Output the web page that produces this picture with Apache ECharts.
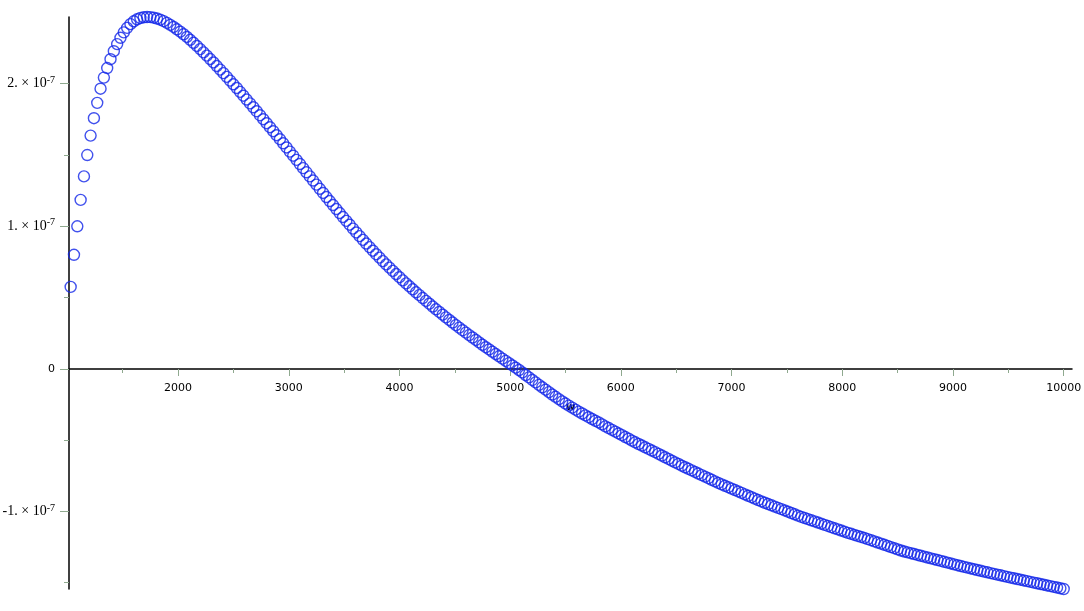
<!DOCTYPE html>
<html>
<head>
<meta charset="utf-8">
<title>plot</title>
<script src="https://cdn.jsdelivr.net/npm/echarts@6/dist/echarts.min.js"></script>
<style>
  html, body { margin: 0; padding: 0; background: #fff; }
  #main { width: 1084px; height: 611px; }
</style>
</head>
<body>
<div id="main"></div>
<script>
// sample points: x = X_START + i * X_STEP
const X_START = 1030,
    X_STEP = 30
// values in units of 1e-7
const yVals = [
    0.575, 0.800, 1.000, 1.185, 1.350, 1.500, 1.636, 1.758, 1.866, 1.965,
    2.043, 2.110, 2.172, 2.228, 2.278, 2.322, 2.360, 2.392, 2.418, 2.438,
    2.452, 2.461, 2.466, 2.468, 2.467, 2.463, 2.457, 2.449, 2.439, 2.427,
    2.413, 2.398, 2.382, 2.365, 2.347, 2.328, 2.308, 2.287, 2.265, 2.243,
    2.220, 2.197, 2.173, 2.149, 2.124, 2.099, 2.074, 2.048, 2.022, 1.996,
    1.970, 1.943, 1.916, 1.889, 1.862, 1.835, 1.807, 1.779, 1.751, 1.723,
    1.695, 1.667, 1.639, 1.611, 1.582, 1.553, 1.524, 1.495, 1.466, 1.437,
    1.408, 1.379, 1.350, 1.321, 1.292, 1.263, 1.234, 1.205, 1.177, 1.149,
    1.121, 1.093, 1.065, 1.038, 1.011, 0.984, 0.957, 0.931, 0.905, 0.879,
    0.854, 0.829, 0.804, 0.780, 0.756, 0.733, 0.710, 0.687, 0.665, 0.643,
    0.621, 0.600, 0.579, 0.558, 0.537, 0.517, 0.497, 0.477, 0.457, 0.437,
    0.418, 0.399, 0.380, 0.361, 0.343, 0.325, 0.307, 0.289, 0.271, 0.254,
    0.237, 0.220, 0.203, 0.186, 0.169, 0.152, 0.136, 0.120, 0.104, 0.088,
    0.072, 0.056, 0.040, 0.024, 0.008, -0.008, -0.025, -0.043, -0.060, -0.078,
    -0.095, -0.112, -0.129, -0.146, -0.163, -0.180, -0.196, -0.212, -0.228, -0.243,
    -0.258, -0.272, -0.286, -0.300, -0.313, -0.326, -0.339, -0.352, -0.364, -0.376,
    -0.389, -0.403, -0.415, -0.428, -0.440, -0.453, -0.465, -0.478, -0.490, -0.503,
    -0.515, -0.527, -0.538, -0.550, -0.561, -0.573, -0.584, -0.596, -0.608, -0.620,
    -0.632, -0.644, -0.656, -0.667, -0.679, -0.690, -0.701, -0.712, -0.723, -0.734,
    -0.745, -0.756, -0.767, -0.778, -0.789, -0.800, -0.810, -0.820, -0.830, -0.840,
    -0.850, -0.860, -0.870, -0.880, -0.890, -0.900, -0.910, -0.920, -0.930, -0.939,
    -0.948, -0.957, -0.966, -0.975, -0.984, -0.993, -1.002, -1.011, -1.020, -1.029,
    -1.038, -1.046, -1.054, -1.062, -1.070, -1.078, -1.086, -1.094, -1.102, -1.110,
    -1.118, -1.126, -1.134, -1.142, -1.150, -1.157, -1.165, -1.172, -1.179, -1.186,
    -1.194, -1.202, -1.210, -1.218, -1.226, -1.234, -1.242, -1.250, -1.258, -1.266,
    -1.274, -1.281, -1.287, -1.293, -1.299, -1.305, -1.311, -1.317, -1.323, -1.329,
    -1.335, -1.341, -1.347, -1.353, -1.359, -1.365, -1.371, -1.377, -1.383, -1.389,
    -1.394, -1.400, -1.405, -1.411, -1.416, -1.422, -1.427, -1.433, -1.438, -1.443,
    -1.448, -1.454, -1.459, -1.464, -1.469, -1.474, -1.479, -1.484, -1.489, -1.494,
    -1.499, -1.504, -1.509, -1.514, -1.519, -1.524, -1.529, -1.534, -1.539, -1.544
]
// ticks
const xLabels = [2000, 3000, 4000, 5000, 6000, 7000, 8000, 9000, 10000]
const xMinor = [1500, 2500, 3500, 4500, 5500, 6500, 7500, 8500, 9500]
const yLabels = [2e-7, 1e-7, 0, -1e-7]
const yMinor = [1.5e-7, 0.5e-7, -0.5e-7, -1.5e-7]

const Y_MIN = -1.544e-7,
    Y_MAX = 2.468e-7
const GRID_TOP = 17,
    GRID_BOTTOM = 22,
    H = 611
// the horizontal axis sits on y = 0: shift it up from the grid bottom
const plotH = H - GRID_TOP - GRID_BOTTOM
const zeroShift = -Math.round(plotH * (0 - Y_MIN) / (Y_MAX - Y_MIN))

const tickColor = '#8fa98f'
const blue = '#1226e8'

const points = yVals.map((v, i) => [X_START + i * X_STEP, v * 1e-7])

const myChart = echarts.init(document.getElementById('main'), null, { renderer: 'canvas' })

const option = {
    animation: false,
    backgroundColor: '#fff',
    grid: {
        left: 69,
        right: 12,
        top: GRID_TOP,
        bottom: GRID_BOTTOM,
        containLabel: false,
        outerBoundsMode: 'none'
    },
    xAxis: [{
        type: 'value',
        min: 1015,
        max: 10075,
        position: 'bottom',
        offset: zeroShift,
        name: 'w',
        nameLocation: 'middle',
        nameGap: 33,
        nameTextStyle: { color: '#000', fontSize: 10, fontFamily: 'DejaVu Sans', fontWeight: 'bold' },
        axisLine: { show: true, onZero: false, lineStyle: { color: '#000', width: 1.5 } },
        axisTick: { show: true, length: 7, lineStyle: { color: tickColor, width: 1 }, customValues: xLabels },
        axisLabel: {
            show: true,
            customValues: xLabels,
            formatter: v => String(v),
            margin: 14,
            color: '#000',
            fontSize: 11,
            fontFamily: 'DejaVu Sans'
        },
        splitLine: { show: false }
    }, {
        type: 'value',
        min: 1015,
        max: 10075,
        position: 'bottom',
        offset: zeroShift,
        axisLine: { show: false, onZero: false },
        axisTick: { show: true, length: 4, lineStyle: { color: tickColor, width: 1 }, customValues: xMinor },
        axisLabel: { show: false },
        splitLine: { show: false }
    }],
    yAxis: [{
        type: 'value',
        min: Y_MIN,
        max: Y_MAX,
        position: 'left',
        axisLine: { show: true, onZero: false, lineStyle: { color: '#000', width: 1.5 } },
        axisTick: { show: true, length: 9, lineStyle: { color: tickColor, width: 1 }, customValues: yLabels },
        axisLabel: {
            show: true,
            customValues: yLabels,
            margin: 14,
            formatter: function (v) {
                const n = Math.round(v * 1e7)
                if (n === 0) return '{z|0}'
                return '{m|' + n + '. \u00d7 10}{s|-7}'
            },
            rich: {
                m: { fontFamily: 'Liberation Serif', fontSize: 14, color: '#000', lineHeight: 17 },
                s: { fontFamily: 'Liberation Serif', fontSize: 10, color: '#000', lineHeight: 10, verticalAlign: 'top' },
                z: { fontFamily: 'DejaVu Sans', fontSize: 11, color: '#000' }
            }
        },
        splitLine: { show: false }
    }, {
        type: 'value',
        min: Y_MIN,
        max: Y_MAX,
        position: 'left',
        axisLine: { show: false, onZero: false },
        axisTick: { show: true, length: 5, lineStyle: { color: tickColor, width: 1 }, customValues: yMinor },
        axisLabel: { show: false },
        splitLine: { show: false }
    }],
    series: [{
        type: 'scatter',
        xAxisIndex: 0,
        yAxisIndex: 0,
        symbol: 'circle',
        symbolSize: 11,
        clip: false,
        silent: true,
        itemStyle: {
            color: 'rgba(0,0,0,0)',
            borderColor: blue,
            borderWidth: 1.4
        },
        data: points
    }]
}

myChart.setOption(option)
</script>
</body>
</html>
